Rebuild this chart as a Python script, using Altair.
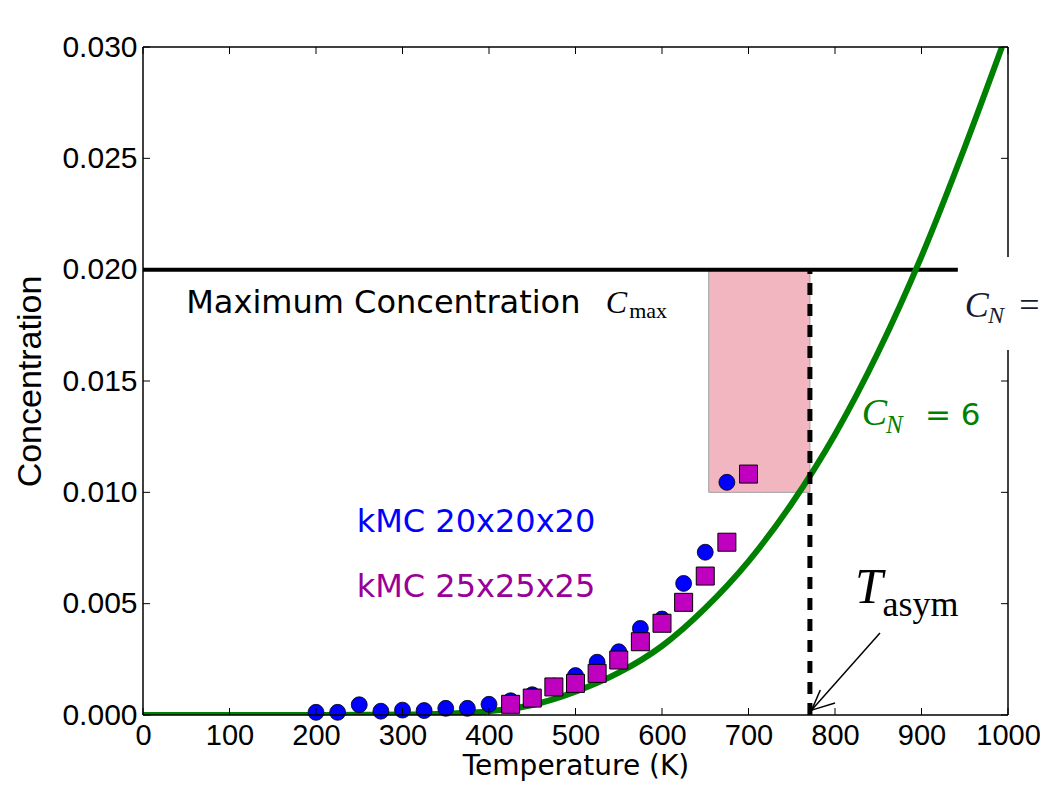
import altair as alt
import pandas as pd

# ---------------- data ----------------
curve_T = [0, 100, 200, 250, 300, 350, 400, 450, 500, 550, 600, 650, 700, 750, 800, 850, 900, 950, 993]
curve_C = [0, 0, 0.000002, 0.00001, 0.00002, 0.00006, 0.00017, 0.00045, 0.00105, 0.0019,
           0.0031, 0.0048, 0.0069, 0.0095, 0.0126, 0.0163, 0.0206, 0.0255, 0.0300]

kmc20_T = [200, 225, 250, 275, 300, 325, 350, 375, 400, 425, 450, 475, 500, 525, 550, 575, 600, 625, 650, 675]
kmc20_C = [0.00012, 0.00012, 0.00046, 0.00017, 0.00022, 0.00020, 0.00030, 0.00030, 0.00048, 0.00064,
           0.00091, 0.00130, 0.00177, 0.00237, 0.00284, 0.00389, 0.00431, 0.00591, 0.00731, 0.01045]

kmc25_T = [425, 450, 475, 500, 525, 550, 575, 600, 625, 650, 675, 700]
kmc25_C = [0.00048, 0.00076, 0.00126, 0.00142, 0.00187, 0.00247, 0.00329, 0.00412, 0.00506, 0.00624,
           0.00776, 0.01082]

c_max = 0.020
t_asym = 771
window_T = [654, 771]
window_C = [0.010, 0.020]

x_ticks = [0, 100, 200, 300, 400, 500, 600, 700, 800, 900, 1000]
y_ticks = [0.000, 0.005, 0.010, 0.015, 0.020, 0.025, 0.030]

W, H = 865, 668

xs = alt.Scale(domain=[0, 1000], nice=False, zero=False)
ys = alt.Scale(domain=[0, 0.03], nice=False, zero=False)

x_axis = alt.Axis(values=x_ticks, format="d", title="Temperature (K)", labelFont="Liberation Sans",
                  labelFontSize=29, labelPadding=6, labelColor="black", labelOverlap=False,
                  labelFlush=False, titleFont="DejaVu Sans", titleFontSize=28,
                  titleFontWeight="normal", titleColor="black", titlePadding=2,
                  domain=False, ticks=False, grid=False)
y_axis = alt.Axis(values=y_ticks, format=".3f", title="Concentration",
                  labelFont="Liberation Sans", labelFontSize=30, labelPadding=6,
                  labelColor="black", labelOverlap=False, labelFlush=False,
                  titleFont="Liberation Sans", titleFontSize=34, titleFontWeight="normal",
                  titleColor="black", titlePadding=14, domain=False, ticks=False, grid=False)


def X():
    return alt.X("T:Q", scale=xs, axis=x_axis)


def Y():
    return alt.Y("C:Q", scale=ys, axis=y_axis)


# window rectangle
rect = alt.Chart(pd.DataFrame({"T": [window_T[0]], "T2": [window_T[1]],
                               "C": [window_C[0]], "C2": [window_C[1]]})).mark_rect(
    fill="#f2b6c1", stroke="#a0a0a0", strokeWidth=1
).encode(x=X(), x2="T2:Q", y=Y(), y2="C2:Q")

hline = alt.Chart(pd.DataFrame({"T": [0, 1000], "C": [c_max, c_max]})).mark_line(
    color="black", strokeWidth=4, clip=True
).encode(x=X(), y=Y())

curve = alt.Chart(pd.DataFrame({"T": curve_T, "C": curve_C})).mark_line(
    color="#008000", strokeWidth=6, clip=True, interpolate="monotone"
).encode(x=X(), y=Y())

vdash = alt.Chart(pd.DataFrame({"T": [t_asym, t_asym], "C": [0, c_max]})).mark_line(
    color="black", strokeWidth=5, strokeDash=[12, 9]
).encode(x=X(), y=Y())

circles = alt.Chart(pd.DataFrame({"T": kmc20_T, "C": kmc20_C})).mark_point(
    shape="circle", filled=True, fill="#0000ff", stroke="black", strokeWidth=0.8,
    size=254, opacity=1
).encode(x=X(), y=Y())

squares = alt.Chart(pd.DataFrame({"T": kmc25_T, "C": kmc25_C})).mark_point(
    shape="square", filled=True, fill="#bf00bf", stroke="black", strokeWidth=1,
    size=324, opacity=1
).encode(x=X(), y=Y())

arrow = alt.Chart(pd.DataFrame({
    "T": [852, 783, 800], "C": [0.00368, 0.00112, 0.00054],
    "T2": [773, 773, 773], "C2": [0.00022, 0.00022, 0.00022]})).mark_rule(
    color="black", strokeWidth=1.5
).encode(x=X(), y=Y(), x2="T2:Q", y2="C2:Q")


def txt(T, C, s, **kw):
    return alt.Chart(pd.DataFrame({"T": [T], "C": [C], "s": [s]})).mark_text(
        align="left", baseline="alphabetic", **kw
    ).encode(x=X(), y=Y(), text="s:N")


texts = [
    txt(50, 0.01805, "Maximum Concentration", font="DejaVu Sans", fontSize=32, color="black"),
    txt(535, 0.01805, "C", font="Liberation Serif", fontStyle="italic", fontSize=32, color="black"),
    txt(562, 0.01783, "max", font="Liberation Serif", fontSize=22, color="black"),
    txt(247, 0.00823, "kMC 20x20x20", font="DejaVu Sans", fontSize=32, color="#0000ff"),
    txt(247, 0.00531, "kMC 25x25x25", font="DejaVu Sans", fontSize=32, color="#990099"),
    txt(823, 0.00503, "T", font="Liberation Serif", fontStyle="italic", fontSize=50, color="black"),
    txt(855, 0.00445, "asym", font="Liberation Serif", fontSize=36, color="black"),
    txt(831, 0.01302, "C", font="Liberation Serif", fontStyle="italic", fontSize=38, color="#008000"),
    txt(859, 0.01266, "N", font="Liberation Serif", fontStyle="italic", fontSize=25, color="#008000"),
    txt(904, 0.01302, "= 6", font="DejaVu Sans", fontSize=31, color="#008000"),
]

one = pd.DataFrame({"a": [0]})
frame = [
    alt.Chart(one).mark_rule(color="black", strokeWidth=1.5).encode(
        x=alt.value(0), y=alt.value(0), y2=alt.value(H)),
    alt.Chart(one).mark_rule(color="black", strokeWidth=1.5).encode(
        x=alt.value(W), y=alt.value(0), y2=alt.value(H)),
    alt.Chart(one).mark_rule(color="black", strokeWidth=1.5).encode(
        y=alt.value(0), x=alt.value(0), x2=alt.value(W)),
    alt.Chart(one).mark_rule(color="black", strokeWidth=1.5).encode(
        y=alt.value(H), x=alt.value(0), x2=alt.value(W)),
]

xt = pd.DataFrame({"T": x_ticks})
yt = pd.DataFrame({"C": y_ticks})
ticks = [
    alt.Chart(xt).mark_rule(color="black", strokeWidth=1).encode(
        x=X(), y=alt.value(H), y2=alt.value(H - 7)),
    alt.Chart(xt).mark_rule(color="black", strokeWidth=1).encode(
        x=X(), y=alt.value(0), y2=alt.value(7)),
    alt.Chart(yt).mark_rule(color="black", strokeWidth=1).encode(
        y=Y(), x=alt.value(0), x2=alt.value(7)),
    alt.Chart(yt).mark_rule(color="black", strokeWidth=1).encode(
        y=Y(), x=alt.value(W), x2=alt.value(W - 7)),
]

# white overlay box (slide element) on the right
box = alt.Chart(pd.DataFrame({"T": [942], "T2": [1060], "C": [0.01639], "C2": [0.02057]})).mark_rect(
    fill="white", clip=False
).encode(x=X(), x2="T2:Q", y=Y(), y2="C2:Q")

overlay_texts = [
    txt(950, 0.01787, "C", font="Liberation Serif", fontStyle="italic", fontSize=36, color="#1a1a33"),
    txt(977, 0.0176, "N", font="Liberation Serif", fontStyle="italic", fontSize=24, color="#1a1a33"),
    txt(1013, 0.01787, "=", font="Liberation Serif", fontSize=36, color="#1a1a33"),
]

chart = alt.layer(
    rect, hline, curve, vdash, circles, squares, arrow, *texts, *frame, *ticks, box, *overlay_texts
).properties(
    width=W, height=H,
    autosize=alt.AutoSizeParams(type="none"),
    padding={"left": 135, "top": 39, "right": 32, "bottom": 69},
    background="white",
).configure_view(strokeWidth=0)

chart.save("out.html", embed_options={"renderer": "svg", "actions": False})
